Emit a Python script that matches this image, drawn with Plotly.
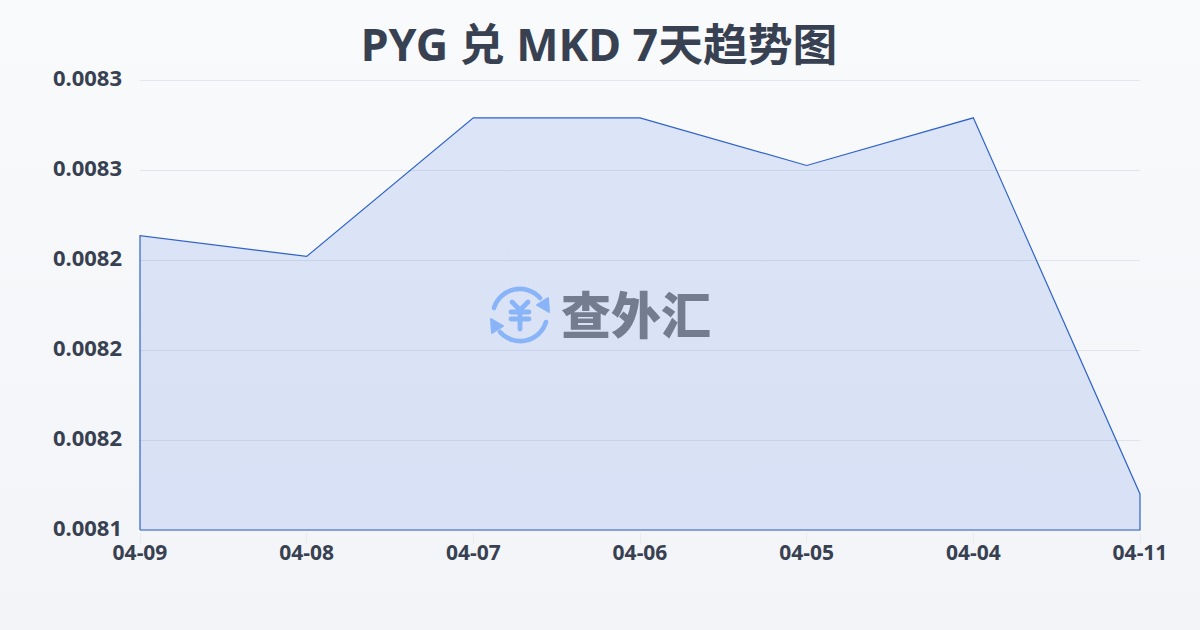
import base64
import plotly.graph_objects as go

dates = ["04-09", "04-08", "04-07", "04-06", "04-05", "04-04", "04-11"]
rates = [0.0082635, 0.008252, 0.008329, 0.008329, 0.0083025, 0.008329, 0.008120]
y_ticks = [0.0081, 0.00815, 0.0082, 0.00825, 0.0083, 0.00835]
y_labels = ["0.0081", "0.0082", "0.0082", "0.0082", "0.0083", "0.0083"]
baseline = 0.0081
top = 0.00835
title_text = "PYG 兑 MKD 7天趋势图"
watermark = "查外汇"

# Plot area is 2px larger than the visible 1000x450 frame on each side so the
# outline along the frame's edges is not clipped.
PAD = 2
L, T, W, H = 140 - PAD, 80 - PAD, 1000 + 2 * PAD, 450 + 2 * PAD
def px(x): return (x - L) / W
def py(y): return (T + H - y) / H
xu = 6 / 1000
yu = (top - baseline) / 450

def uri(svg):
    return "data:image/svg+xml;base64," + base64.b64encode(svg.encode()).decode()

bg_svg = ('<svg xmlns="http://www.w3.org/2000/svg" width="1200" height="630" preserveAspectRatio="none">'
          '<defs><linearGradient id="g" x1="0" y1="0" x2="0" y2="1"><stop offset="0" stop-color="#f9fafc"/>'
          '<stop offset="1" stop-color="#f3f4f7"/></linearGradient></defs>'
          '<rect width="1200" height="630" fill="url(#g)"/></svg>')

logo_svg = ('<svg xmlns="http://www.w3.org/2000/svg" width="64" height="64" viewBox="0 0 64 64" fill="none">'
            '<g stroke="#8ab4f8" stroke-width="4.6" stroke-linecap="round" stroke-linejoin="round">'
            '<path d="M6 25 A27 27 0 0 1 52 15"/><path d="M58 39 A27 27 0 0 1 12 49"/>'
            '<path d="M24 19 L32 27 L40 19 M23 29 H41 M23 36 H41 M32 27 V46" stroke-width="4.8"/></g>'
            '<path d="M60 15 L61 29 L49 22 Z" fill="#8ab4f8" stroke="#8ab4f8" stroke-width="2" stroke-linejoin="round"/>'
            '<path d="M3 36 L4 50 L15 43 Z" fill="#8ab4f8" stroke="#8ab4f8" stroke-width="2" stroke-linejoin="round"/></svg>')

fig = go.Figure()
fig.add_trace(go.Scatter(
    x=[dates[0]] + dates + [dates[-1], dates[0]],
    y=[baseline] + rates + [baseline, baseline],
    mode="lines",
    line=dict(color="#2f62c9", width=1.2),
    fill="toself",
    fillcolor="rgba(37,99,228,0.135)",
    hoverinfo="skip",
    showlegend=False,
))

# half-pixel offset keeps the 1px gridlines on a single pixel row
grid_shapes = [dict(type="line", xref="paper", x0=px(140), x1=px(1140), yref="y",
                    y0=v - 0.5 * yu, y1=v - 0.5 * yu,
                    line=dict(color="rgba(148,163,184,0.22)", width=1), layer="below") for v in y_ticks]

fig.update_layout(
    width=1200, height=630, autosize=False,
    margin=dict(l=L, r=1200 - L - W, t=T, b=630 - T - H, pad=0),
    paper_bgcolor="#f5f7fa", plot_bgcolor="rgba(0,0,0,0)",
    font=dict(family="'Noto Sans', 'Noto Sans CJK SC', sans-serif", color="#374151"),
    title=dict(text=f"<b>{title_text}</b>", x=0.4992, xanchor="center", y=0.928, yanchor="middle",
               font=dict(size=44.8, color="#374151", family="'Noto Sans', 'Noto Sans CJK SC', sans-serif")),
    images=[
        dict(source=uri(bg_svg), xref="paper", yref="paper", x=px(0), y=py(0),
             sizex=1200 / W, sizey=630 / H, xanchor="left", yanchor="top", sizing="stretch", layer="below"),
        dict(source=uri(logo_svg), xref="paper", yref="paper", x=px(488), y=py(283),
             sizex=64 / W, sizey=64 / H, xanchor="left", yanchor="top", sizing="stretch", layer="above"),
    ],
    annotations=[dict(text=watermark, xref="paper", yref="paper", x=px(636), y=py(312),
                      xanchor="center", yanchor="middle", showarrow=False,
                      font=dict(size=50, color="#737d8f", family="'Noto Sans CJK SC'", weight=900))],
    shapes=grid_shapes,
    xaxis=dict(type="category", categoryorder="array", categoryarray=dates,
               range=[-PAD * xu, 6 + PAD * xu],
               showgrid=False, zeroline=False, showline=False, ticks="outside", ticklen=10,
               tickcolor="#e9ebef", tickwidth=1, ticklabelstandoff=-8,
               tickfont=dict(size=21, color="#374151", family="'Noto Sans'", weight="bold")),
    yaxis=dict(range=[baseline - PAD * yu, top + PAD * yu], tickvals=y_ticks, ticktext=y_labels,
               showgrid=False, zeroline=False, showline=False,
               ticks="", ticklabelstandoff=15, ticklabelshift=-2,
               tickfont=dict(size=22, color="#374151", family="'Noto Sans'", weight="bold")),
)
fig.write_html("out.html", config={"displayModeBar": False},
               post_script="document.body.style.margin='0';")
